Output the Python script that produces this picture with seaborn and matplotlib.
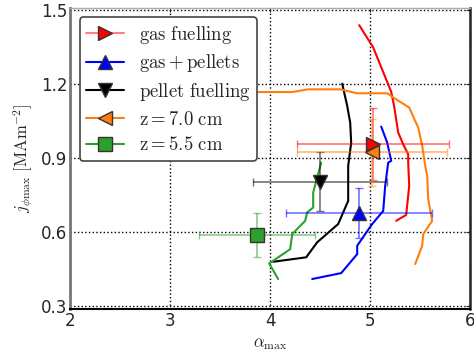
import numpy as np
import pandas as pd
import seaborn as sns
import matplotlib
matplotlib.use("Agg")
import matplotlib.pyplot as plt
from matplotlib.lines import Line2D

# profile curves (alpha_max, j_phimax)
red_x = [4.89, 5.03, 5.17, 5.21, 5.24, 5.28, 5.33, 5.38, 5.38, 5.39, 5.36, 5.26]
red_y = [1.44, 1.35, 1.21, 1.17, 1.11, 1.005, 0.957, 0.917, 0.883, 0.789, 0.671, 0.647]

orange_x = [3.6, 3.9, 4.22, 4.38, 4.70, 4.87, 5.17, 5.23, 5.39, 5.48, 5.52, 5.55, 5.57, 5.58, 5.62, 5.53, 5.52, 5.45]
orange_y = [1.169, 1.169, 1.169, 1.18, 1.18, 1.164, 1.164, 1.147, 1.106, 1.025, 0.951, 0.870, 0.829, 0.735, 0.647, 0.593, 0.546, 0.472]

black_x = [4.72, 4.77, 4.80, 4.81, 4.78, 4.78, 4.78, 4.68, 4.47, 4.36, 4.03]
black_y = [1.203, 1.113, 1.045, 0.964, 0.870, 0.816, 0.728, 0.634, 0.560, 0.499, 0.481]

blue_x = [5.11, 5.17, 5.21, 5.18, 5.15, 5.13, 5.02, 4.87, 4.87, 4.71, 4.42]
blue_y = [1.029, 0.964, 0.890, 0.883, 0.789, 0.687, 0.634, 0.546, 0.512, 0.435, 0.411]

green_x = [4.51, 4.43, 4.43, 4.37, 4.35, 4.22, 4.20, 3.99, 4.08]
green_y = [0.883, 0.762, 0.701, 0.681, 0.647, 0.593, 0.532, 0.474, 0.411]

# averaged points with errors
labels = [r'$\mathrm{gas\ fuelling}$', r'$\mathrm{gas}+\mathrm{pellets}$',
          r'$\mathrm{pellet\ fuelling}$', r'$\mathrm{z}=7.0\ \mathrm{cm}$',
          r'$\mathrm{z}=5.5\ \mathrm{cm}$']
pt_x = [5.03, 4.89, 4.50, 5.02, 3.87]
pt_y = [0.957, 0.678, 0.806, 0.924, 0.589]
pt_xerr = [0.76, 0.73, 0.67, 0.75, 0.58]
pt_yerr = [0.146, 0.10, 0.12, 0.137, 0.088]
colors = ['#ff0000', '#0000ff', '#000000', '#ff7f0e', '#2ca02c']
leg_line = ['#ff8080', '#0000ff', '#000000', '#ff7f0e', '#2ca02c']
markers = ['>', '^', 'v', '<', 's']

sns.set_style("white")
plt.rcParams['mathtext.fontset'] = 'cm'
plt.rcParams['font.family'] = ['DejaVu Sans']

fig = plt.figure(figsize=(4.74, 3.6), dpi=100)
ax = fig.add_axes([0.148, 0.142, 0.844, 0.836])

curves = [(red_x, red_y), (blue_x, blue_y), (black_x, black_y),
          (orange_x, orange_y), (green_x, green_y)]
for (cx, cy), c in zip(curves, colors):
    df = pd.DataFrame({'a': cx, 'j': cy})
    sns.lineplot(data=df, x='a', y='j', sort=False, estimator=None,
                 color=c, lw=1.5, ax=ax, legend=False)

handles = []
for i in range(len(labels)):
    ax.errorbar(pt_x[i], pt_y[i], xerr=pt_xerr[i], yerr=pt_yerr[i],
                fmt='none', ecolor=colors[i], elinewidth=1.2, alpha=0.55,
                capsize=3, zorder=3)
    ax.plot(pt_x[i], pt_y[i], marker=markers[i], ms=10, mfc=colors[i],
            mec='#333333', ls='none', zorder=4)
    handles.append(Line2D([], [], color=leg_line[i], lw=1.5,
                          marker=markers[i], ms=10, mfc=colors[i], mec='#333333'))

ax.set_xlim(2, 6)
ax.set_ylim(0.29, 1.51)
ax.set_xticks([2, 3, 4, 5, 6])
ax.set_yticks([0.3, 0.6, 0.9, 1.2, 1.5])
ax.tick_params(direction='in', labelsize=12, top=True, right=True, length=3,
               pad=2)
ax.grid(True, color='k', linestyle=':', linewidth=1)
ax.spines['left'].set_color('#777777')
ax.spines['left'].set_linewidth(2)
ax.spines['top'].set_color('#aaaaaa')
ax.spines['top'].set_linewidth(1)
ax.spines['right'].set_color('#222222')
ax.spines['right'].set_linewidth(1.8)
ax.spines['bottom'].set_color('#000000')
ax.spines['bottom'].set_linewidth(1.5)
ax.set_xlabel(r'$\alpha_{\max}$', fontsize=12, labelpad=3)
ax.set_ylabel(r'$j_{\phi\max}\ [\mathrm{MAm^{-2}}]$', fontsize=12, labelpad=4)

leg = ax.legend(handles, labels, loc='upper left', fontsize=13.5, frameon=True,
                fancybox=True, edgecolor='#444444', framealpha=1,
                borderaxespad=0.5, handlelength=2.0, labelspacing=0.35,
                borderpad=0.35, handletextpad=0.8)
leg.get_frame().set_linewidth(1.2)
leg.set_zorder(10)

fig.savefig('out.png', dpi=100)
